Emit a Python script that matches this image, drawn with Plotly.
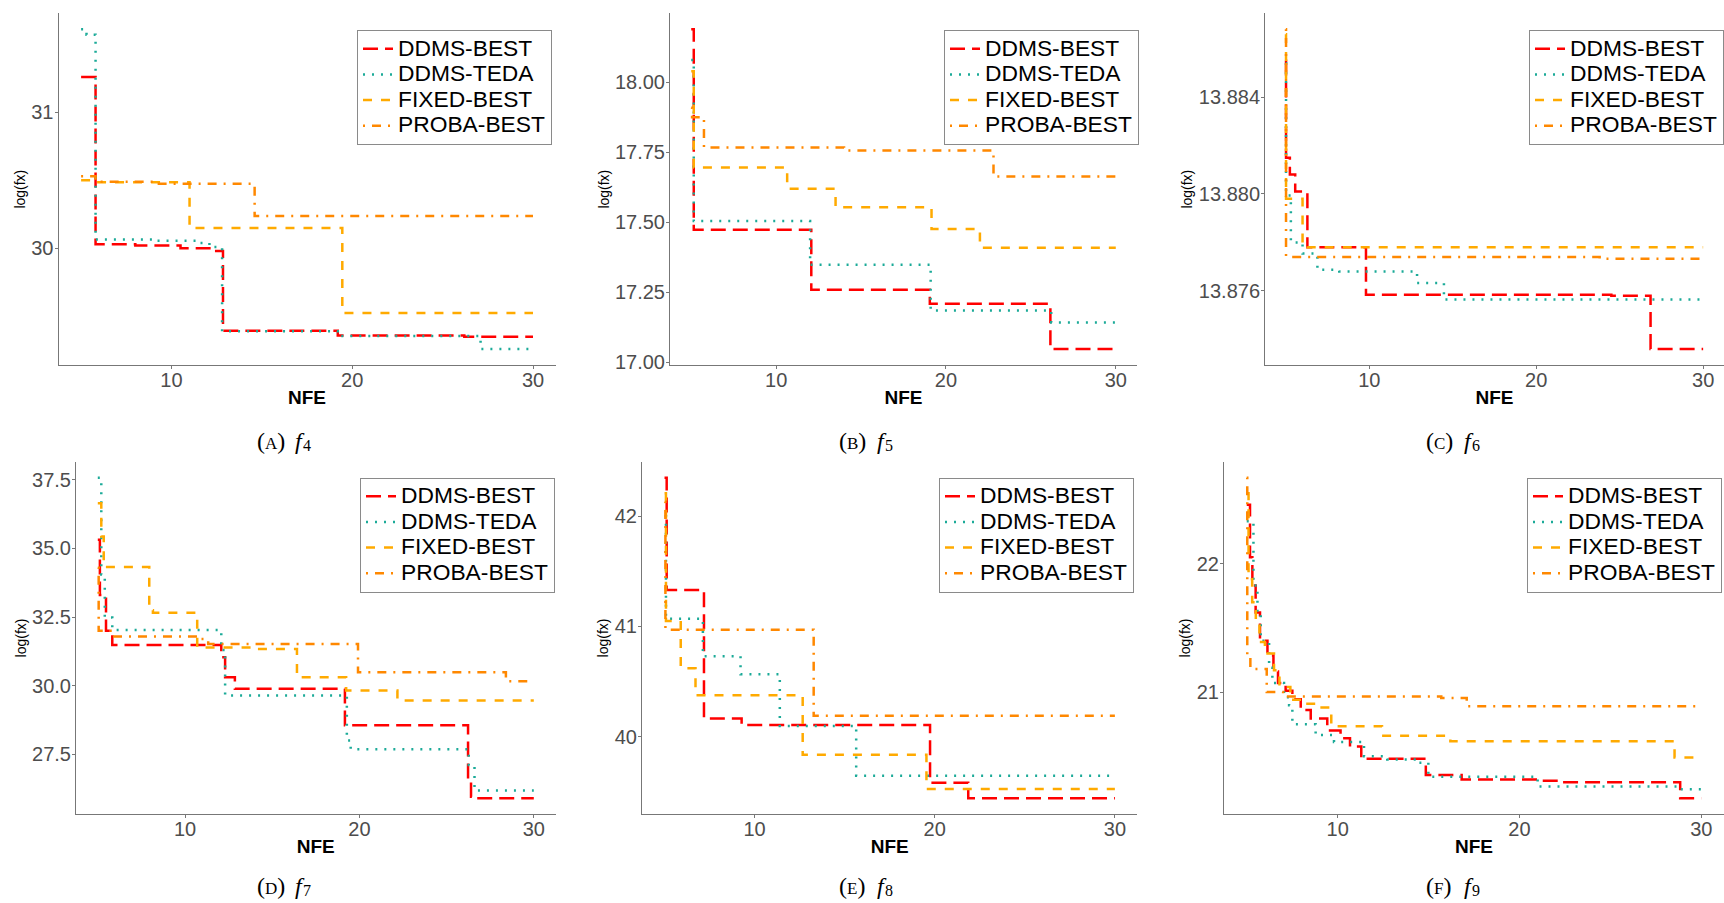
import plotly.graph_objects as go

# ---------------- data ----------------
SERIES_NAMES = ["DDMS-BEST", "DDMS-TEDA", "FIXED-BEST", "PROBA-BEST"]
PANEL_LETTERS = ["a", "b", "c", "d", "e", "f"]
PANEL_FUNCS = ["4", "5", "6", "7", "8", "9"]

X_TICKS = [10, 20, 30]
X_TICKTEXT = ["10", "20", "30"]

# f4
F4_DDMS_BEST_X = [5, 5.8, 8.0, 10.5, 12.2, 12.85, 19.2, 26.2, 30]
F4_DDMS_BEST_Y = [31.26, 30.03, 30.02, 30.0, 29.98, 29.395, 29.36, 29.35, 29.35]
F4_DDMS_TEDA_X = [5, 5.3, 5.8, 9.0, 11.5, 12.1, 12.8, 19.2, 27.1, 30]
F4_DDMS_TEDA_Y = [31.61, 31.57, 30.065, 30.055, 30.04, 30.01, 29.39, 29.355, 29.26, 29.26]
F4_FIXED_BEST_X = [5, 5.7, 11.0, 19.45, 30]
F4_FIXED_BEST_Y = [30.5, 30.485, 30.15, 29.525, 29.525]
F4_PROBA_BEST_X = [5, 5.8, 9.0, 14.6, 30]
F4_PROBA_BEST_Y = [30.53, 30.49, 30.475, 30.237, 30.237]
F4_YTICKS = [30, 31]
F4_YTICKTEXT = ["30", "31"]

# f5
F5_DDMS_BEST_X = [5, 5.15, 12.07, 19.05, 26.15, 30]
F5_DDMS_BEST_Y = [18.19, 17.474, 17.26, 17.21, 17.048, 17.048]
F5_DDMS_TEDA_X = [5, 5.15, 12.0, 19.1, 26.2, 30]
F5_DDMS_TEDA_Y = [18.08, 17.505, 17.349, 17.186, 17.143, 17.143]
F5_FIXED_BEST_X = [5, 5.15, 10.65, 13.5, 19.15, 22.0, 30]
F5_FIXED_BEST_Y = [18.04, 17.696, 17.62, 17.554, 17.477, 17.41, 17.41]
F5_PROBA_BEST_X = [5, 5.05, 5.75, 14.0, 22.8, 30]
F5_PROBA_BEST_Y = [17.91, 17.876, 17.768, 17.757, 17.664, 17.664]
F5_YTICKS = [17.0, 17.25, 17.5, 17.75, 18.0]
F5_YTICKTEXT = ["17.00", "17.25", "17.50", "17.75", "18.00"]

# f6
F6_DDMS_BEST_X = [5, 5.01, 5.24, 5.56, 6.29, 9.8, 24.5, 26.85, 30]
F6_DDMS_BEST_Y = [13.8855, 13.8815, 13.8808, 13.8801, 13.8778, 13.87584, 13.8758, 13.8736, 13.8736]
F6_DDMS_TEDA_X = [5, 5.01, 5.3, 6.0, 6.89, 8.2, 12.86, 14.47, 30]
F6_DDMS_TEDA_Y = [13.8854, 13.87994, 13.878, 13.87754, 13.87687, 13.8768, 13.87633, 13.87564, 13.87564]
F6_FIXED_BEST_X = [5, 5.01, 6.0, 6.3, 30]
F6_FIXED_BEST_Y = [13.8866, 13.8798, 13.8779, 13.8778, 13.8778]
F6_PROBA_BEST_X = [5, 5.01, 23.8, 30]
F6_PROBA_BEST_Y = [13.8868, 13.8774, 13.87733, 13.87733]
F6_YTICKS = [13.876, 13.880, 13.884]
F6_YTICKTEXT = ["13.876", "13.880", "13.884"]

# f7
F7_DDMS_BEST_X = [5, 5.12, 5.47, 5.83, 12.08, 12.3, 12.86, 19.17, 26.23, 26.4, 26.6, 30]
F7_DDMS_BEST_Y = [35.32, 33.3, 32.0, 31.48, 31.03, 30.3, 29.88, 28.55, 26.56, 25.95, 25.89, 25.89]
F7_DDMS_TEDA_X = [5, 5.2, 5.4, 5.83, 12.08, 12.3, 19.28, 19.5, 26.27, 26.6, 30]
F7_DDMS_TEDA_Y = [37.58, 34.05, 32.48, 32.03, 31.3, 29.64, 28.0, 27.68, 27.1, 26.17, 26.17]
F7_FIXED_BEST_X = [5, 5.2, 5.34, 7.95, 8.16, 10.7, 13.9, 16.42, 19.24, 22.18, 30]
F7_FIXED_BEST_Y = [36.65, 35.44, 34.32, 32.75, 32.66, 31.39, 31.33, 30.3, 29.82, 29.46, 29.46]
F7_PROBA_BEST_X = [5, 5.05, 5.83, 10.7, 11.33, 19.92, 28.4, 30]
F7_PROBA_BEST_Y = [34.3, 32.0, 31.79, 31.7, 31.52, 30.49, 30.16, 30.16]
F7_YTICKS = [27.5, 30.0, 32.5, 35.0, 37.5]
F7_YTICKTEXT = ["27.5", "30.0", "32.5", "35.0", "37.5"]

# f8
F8_DDMS_BEST_X = [5, 5.12, 7.19, 9.28, 19.74, 21.86, 30]
F8_DDMS_BEST_Y = [42.35, 41.33, 40.165, 40.105, 39.58, 39.44, 39.44]
F8_DDMS_TEDA_X = [5, 5.08, 7.13, 9.22, 11.4, 15.64, 30]
F8_DDMS_TEDA_Y = [42.0, 41.07, 40.73, 40.565, 40.096, 39.645, 39.645]
F8_FIXED_BEST_X = [5, 5.08, 5.9, 6.72, 12.67, 19.54, 30]
F8_FIXED_BEST_Y = [42.21, 41.05, 40.62, 40.376, 39.835, 39.525, 39.525]
F8_PROBA_BEST_X = [5, 5.05, 13.28, 30]
F8_PROBA_BEST_Y = [42.13, 40.97, 40.19, 40.19]
F8_YTICKS = [40, 41, 42]
F8_YTICKTEXT = ["40", "41", "42"]

# f9
F9_DDMS_BEST_X = [5, 5.18, 5.31, 5.49, 5.73, 6.14, 6.47, 6.72, 7.14, 7.51, 7.97, 8.52, 9.43,
                  10.16, 10.68, 11.3, 14.85, 16.82, 21.0, 22.3, 28.84, 30]
F9_DDMS_BEST_Y = [22.46, 22.05, 21.83, 21.62, 21.40, 21.285, 21.16, 21.07, 21.01, 20.945, 20.86,
                  20.795, 20.70, 20.64, 20.576, 20.48, 20.354, 20.32, 20.31, 20.297, 20.173, 20.173]
F9_DDMS_TEDA_X = [5, 5.37, 5.59, 5.77, 6.23, 6.41, 7.05, 7.33, 7.51, 8.79, 9.8, 11.45, 12.73,
                  14.38, 14.99, 21.0, 28.7, 30]
F9_DDMS_TEDA_Y = [22.33, 21.83, 21.62, 21.40, 21.19, 21.07, 20.96, 20.897, 20.75, 20.665, 20.612,
                  20.50, 20.476, 20.45, 20.34, 20.264, 20.243, 20.243]
F9_FIXED_BEST_X = [5, 5.1, 5.3, 5.5, 5.7, 6.0, 6.5, 6.8, 7.4, 8.2, 8.9, 9.65, 12.44, 16.2, 28.53, 30]
F9_FIXED_BEST_Y = [22.55, 21.88, 21.70, 21.55, 21.39, 21.30, 21.17, 21.04, 20.94, 20.91, 20.88,
                   20.734, 20.66, 20.618, 20.491, 20.491]
F9_PROBA_BEST_X = [5, 5.03, 5.2, 6.1, 7.0, 15.7, 17.1, 30]
F9_PROBA_BEST_Y = [22.67, 21.28, 21.18, 21.0, 20.965, 20.955, 20.89, 20.89]
F9_YTICKS = [21, 22]
F9_YTICKTEXT = ["21", "22"]

PANELS = [
    ([(F4_DDMS_BEST_X, F4_DDMS_BEST_Y), (F4_DDMS_TEDA_X, F4_DDMS_TEDA_Y),
      (F4_FIXED_BEST_X, F4_FIXED_BEST_Y), (F4_PROBA_BEST_X, F4_PROBA_BEST_Y)], F4_YTICKS, F4_YTICKTEXT),
    ([(F5_DDMS_BEST_X, F5_DDMS_BEST_Y), (F5_DDMS_TEDA_X, F5_DDMS_TEDA_Y),
      (F5_FIXED_BEST_X, F5_FIXED_BEST_Y), (F5_PROBA_BEST_X, F5_PROBA_BEST_Y)], F5_YTICKS, F5_YTICKTEXT),
    ([(F6_DDMS_BEST_X, F6_DDMS_BEST_Y), (F6_DDMS_TEDA_X, F6_DDMS_TEDA_Y),
      (F6_FIXED_BEST_X, F6_FIXED_BEST_Y), (F6_PROBA_BEST_X, F6_PROBA_BEST_Y)], F6_YTICKS, F6_YTICKTEXT),
    ([(F7_DDMS_BEST_X, F7_DDMS_BEST_Y), (F7_DDMS_TEDA_X, F7_DDMS_TEDA_Y),
      (F7_FIXED_BEST_X, F7_FIXED_BEST_Y), (F7_PROBA_BEST_X, F7_PROBA_BEST_Y)], F7_YTICKS, F7_YTICKTEXT),
    ([(F8_DDMS_BEST_X, F8_DDMS_BEST_Y), (F8_DDMS_TEDA_X, F8_DDMS_TEDA_Y),
      (F8_FIXED_BEST_X, F8_FIXED_BEST_Y), (F8_PROBA_BEST_X, F8_PROBA_BEST_Y)], F8_YTICKS, F8_YTICKTEXT),
    ([(F9_DDMS_BEST_X, F9_DDMS_BEST_Y), (F9_DDMS_TEDA_X, F9_DDMS_TEDA_Y),
      (F9_FIXED_BEST_X, F9_FIXED_BEST_Y), (F9_PROBA_BEST_X, F9_PROBA_BEST_Y)], F9_YTICKS, F9_YTICKTEXT),
]

# ---------------- styles & layout geometry ----------------
W, H = 1724, 903
COLORS = ["#FF0000", "#1BAA98", "#FFAA00", "#FF8800"]
DASHES = ["15px,7px", "2px,7px", "9px,9px", "2px,7px,9px,7px"]
LINE_W = 2.5
SANS = "Liberation Sans, Arial, sans-serif"
SERIF = "Liberation Serif, Times New Roman, serif"
AXIS_GREY = "#777777"
TICK_GREY = "#4D4D4D"
TICK_SIZE = 20
X_RANGE = [3.75, 31.25]
LEGEND_TEXT_SIZE = 22.8
LEGEND_ROW_FONT = 17.4   # controls legend row pitch

# plot-area pixel boxes (left, right) and rows (top, bottom)
X_PX = [(58.5, 555.6), (670, 1137), (1265, 1724), (76, 555.6), (642, 1137.4), (1224, 1724)]
ROW_PX = [(13.3, 365.0), (461.7, 814.3)]
# legend (right edge, top)
LEGEND_PX = [(552, 30), (1139, 30), (1724, 30), (555, 477.5), (1134, 477.5), (1722, 477.5)]
CAPTION_PX = [(283.3, 440.5), (865, 440.5), (1452, 440.5), (283.3, 885.5), (865, 885.5), (1452, 885.5)]
CAP_SIZE = 24
SUB_SIZE = 16

fig = go.Figure()
layout = dict(
    width=W, height=H,
    margin=dict(l=0, r=0, t=0, b=0),
    paper_bgcolor="white", plot_bgcolor="white",
    font=dict(family=SANS, color="black"),
    showlegend=True,
    annotations=[],
)

for i, (series, yt, ytt) in enumerate(PANELS):
    n = i + 1
    xa = "x" if n == 1 else f"x{n}"
    ya = "y" if n == 1 else f"y{n}"
    lg = "legend" if n == 1 else f"legend{n}"
    for k, (xs, ys) in enumerate(series):
        fig.add_trace(go.Scatter(
            x=xs, y=ys, mode="lines", line_shape="hv",
            name=f'<span style="font-size:{LEGEND_TEXT_SIZE}px">{SERIES_NAMES[k]}</span>',
            line=dict(color=COLORS[k], width=LINE_W, dash=DASHES[k]),
            xaxis=xa, yaxis=ya, legend=lg, hoverinfo="skip",
        ))
    all_y = [v for _, ys in series for v in ys]
    lo, hi = min(all_y), max(all_y)
    pad = 0.05 * (hi - lo)
    row = 0 if i < 3 else 1
    top, bot = ROW_PX[row]
    l, r = X_PX[i]
    axis_common = dict(
        showline=True, linecolor=AXIS_GREY, linewidth=1, mirror=False,
        ticks="outside", ticklen=3, tickwidth=1, tickcolor=AXIS_GREY,
        showgrid=False, zeroline=False, automargin=False,
        tickfont=dict(family=SANS, size=TICK_SIZE, color=TICK_GREY),
    )
    layout["xaxis" if n == 1 else f"xaxis{n}"] = dict(
        axis_common, domain=[l / W, r / W], anchor=ya, range=X_RANGE,
        tickmode="array", tickvals=X_TICKS, ticktext=X_TICKTEXT, ticklabelstandoff=-6,
        title=dict(text="NFE", font=dict(family=SANS, size=19, color="black", weight="bold"), standoff=0),
    )
    layout["yaxis" if n == 1 else f"yaxis{n}"] = dict(
        axis_common, domain=[1 - bot / H, 1 - top / H], anchor=xa, range=[lo - pad, hi + pad],
        tickmode="array", tickvals=yt, ticktext=ytt, ticklabelstandoff=-3,
        title=dict(text="log(fx)", font=dict(family=SANS, size=14, color="black"), standoff=2),
    )
    lx, ly = LEGEND_PX[i]
    layout[lg] = dict(
        x=lx / W, y=1 - ly / H, xanchor="right", yanchor="top",
        xref="paper", yref="paper",
        bgcolor="white", bordercolor="#8A8A8A", borderwidth=1,
        font=dict(family=SANS, size=LEGEND_ROW_FONT, color="black"),
        tracegroupgap=0, traceorder="normal",
    )
    cx, cy = CAPTION_PX[i]
    x0 = cx - 28
    layout["annotations"] += [
        dict(xref="paper", yref="paper", x=x0 / W, y=1 - cy / H,
             xanchor="left", yanchor="middle", showarrow=False,
             text=f"({PANEL_LETTERS[i]})",
             font=dict(family=SERIF, size=CAP_SIZE, color="black", variant="small-caps")),
        dict(xref="paper", yref="paper", x=(x0 + 38) / W, y=1 - cy / H,
             xanchor="left", yanchor="middle", showarrow=False,
             text="f",
             font=dict(family=SERIF, size=CAP_SIZE, color="black", style="italic")),
        dict(xref="paper", yref="paper", x=(x0 + 46) / W, y=1 - (cy + 5) / H,
             xanchor="left", yanchor="middle", showarrow=False,
             text=PANEL_FUNCS[i],
             font=dict(family=SERIF, size=SUB_SIZE, color="black")),
    ]

fig.update_layout(**layout)
fig.write_html("out.html", config={"displayModeBar": False},
               post_script="document.body.style.margin='0';")
